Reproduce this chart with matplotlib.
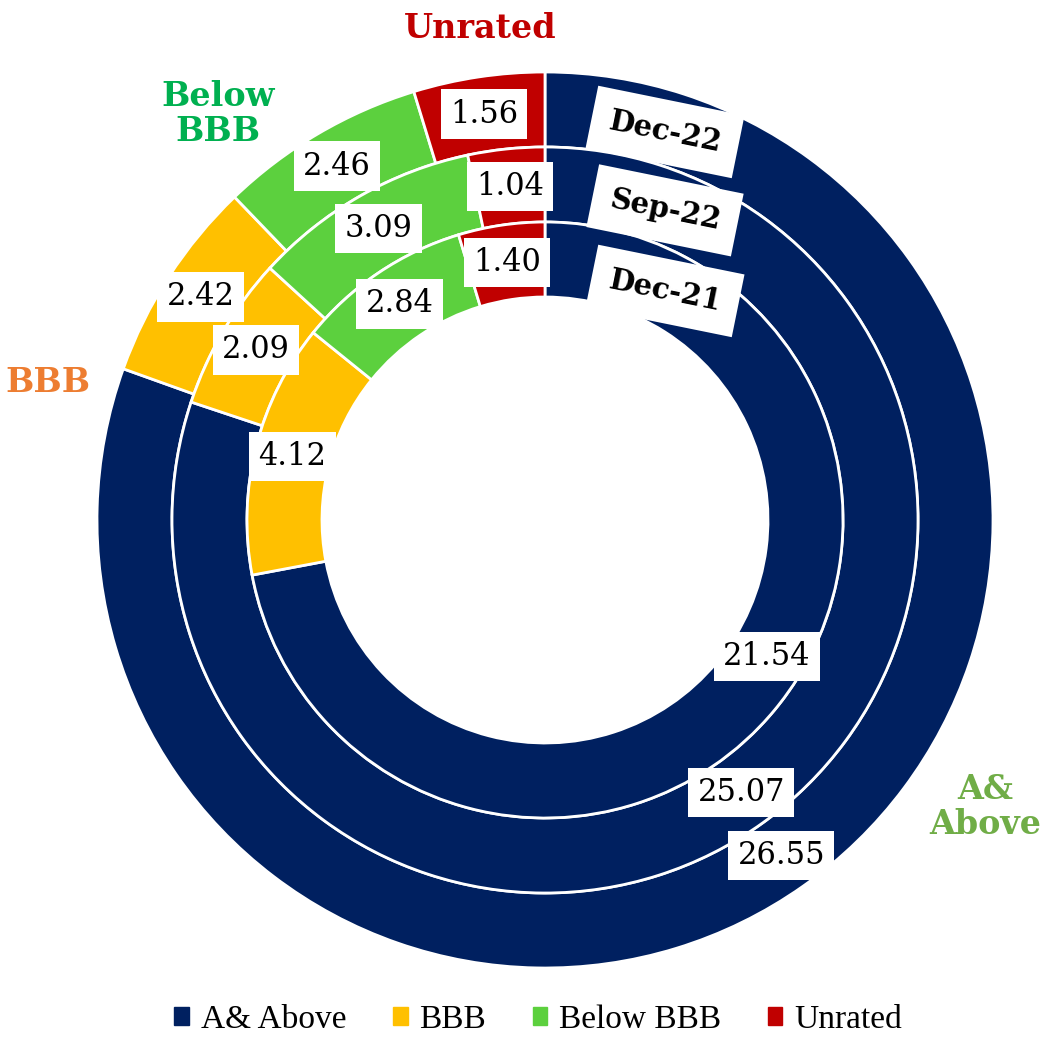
#!/usr/bin/env python3
"""
Nested donut: rating mix of the book for Dec-22, Sep-22 and Dec-21.
"""

import numpy as np
import matplotlib.pyplot as plt
import matplotlib.patches as mpatches

# Data
categories = ['A& Above', 'BBB', 'Below BBB', 'Unrated']
periods = ['Dec-22', 'Sep-22', 'Dec-21']          # outer -> inner ring
dec22 = [26.55, 2.42, 2.46, 1.56]
sep22 = [25.07, 2.09, 3.09, 1.04]
dec21 = [21.54, 4.12, 2.84, 1.40]
rings = [dec22, sep22, dec21]

colors = ['#002060', '#FFC000', '#5CD03E', '#C00000']
label_colors = ['#70AD47', '#ED7D31', '#00B050', '#C00000']

# Geometry (1 data unit = 1 px)
R_OUT = 448
WIDTH = 75

fig = plt.figure(figsize=(10.45, 10.4), dpi=100)
ax = fig.add_axes([0, 0, 1, 1])

value_font = dict(family='DejaVu Serif', fontsize=22, color='black')
box = dict(boxstyle='square,pad=0.3', facecolor='white', edgecolor='none')

# small angular nudge (deg) for labels that sit off the wedge centre
nudge = {(2, 0): 8}

for i, vals in enumerate(rings):
    r = R_OUT - i * WIDTH
    wedges, _ = ax.pie(vals, radius=r, colors=colors, startangle=90,
                       counterclock=False,
                       wedgeprops=dict(width=WIDTH, edgecolor='white', linewidth=2))
    r_mid = r - WIDTH / 2
    for j, w in enumerate(wedges):
        ang = np.deg2rad((w.theta1 + w.theta2) / 2 + nudge.get((i, j), 0))
        ax.text(r_mid * np.cos(ang), r_mid * np.sin(ang), f'{vals[j]:.2f}',
                ha='center', va='center', bbox=box, zorder=5, **value_font)

    # ring name, just right of 12 o'clock
    x = 108
    y = np.sqrt(r_mid ** 2 - x ** 2) - 8
    ax.text(x + 12, y, periods[i], family='DejaVu Serif', fontsize=21,
            fontweight='bold', rotation=-11.5, ha='center', va='center',
            rotation_mode='anchor', zorder=6,
            bbox=dict(boxstyle='square,pad=0.6', facecolor='white', edgecolor='none'))

# Series names around the rings
name_font = dict(family='DejaVu Serif', fontsize=24, fontweight='bold',
                 ha='center', va='center', linespacing=1.1)
ax.text(-65, 491, 'Unrated', color=label_colors[3], **name_font)
ax.text(-327, 406, 'Below\nBBB', color=label_colors[2], **name_font)
ax.text(-497, 138, 'BBB', color=label_colors[1], **name_font)
ax.text(440, -287, 'A&\nAbove', color=label_colors[0], **name_font)

ax.set_xlim(-545, 500)
ax.set_ylim(-520, 520)
ax.set_aspect('equal')
ax.set_axis_off()

# Legend
handles = [mpatches.Patch(color=c, label=l) for c, l in zip(colors, categories)]
fig.legend(handles=handles, loc='lower center', ncol=4, frameon=False,
           bbox_to_anchor=(0.515, -0.024), prop=dict(family='Liberation Serif', size=24),
           handlelength=0.44, handleheight=0.44, handletextpad=0.35, columnspacing=1.4)

plt.savefig('out.png', dpi=100, facecolor='white')
